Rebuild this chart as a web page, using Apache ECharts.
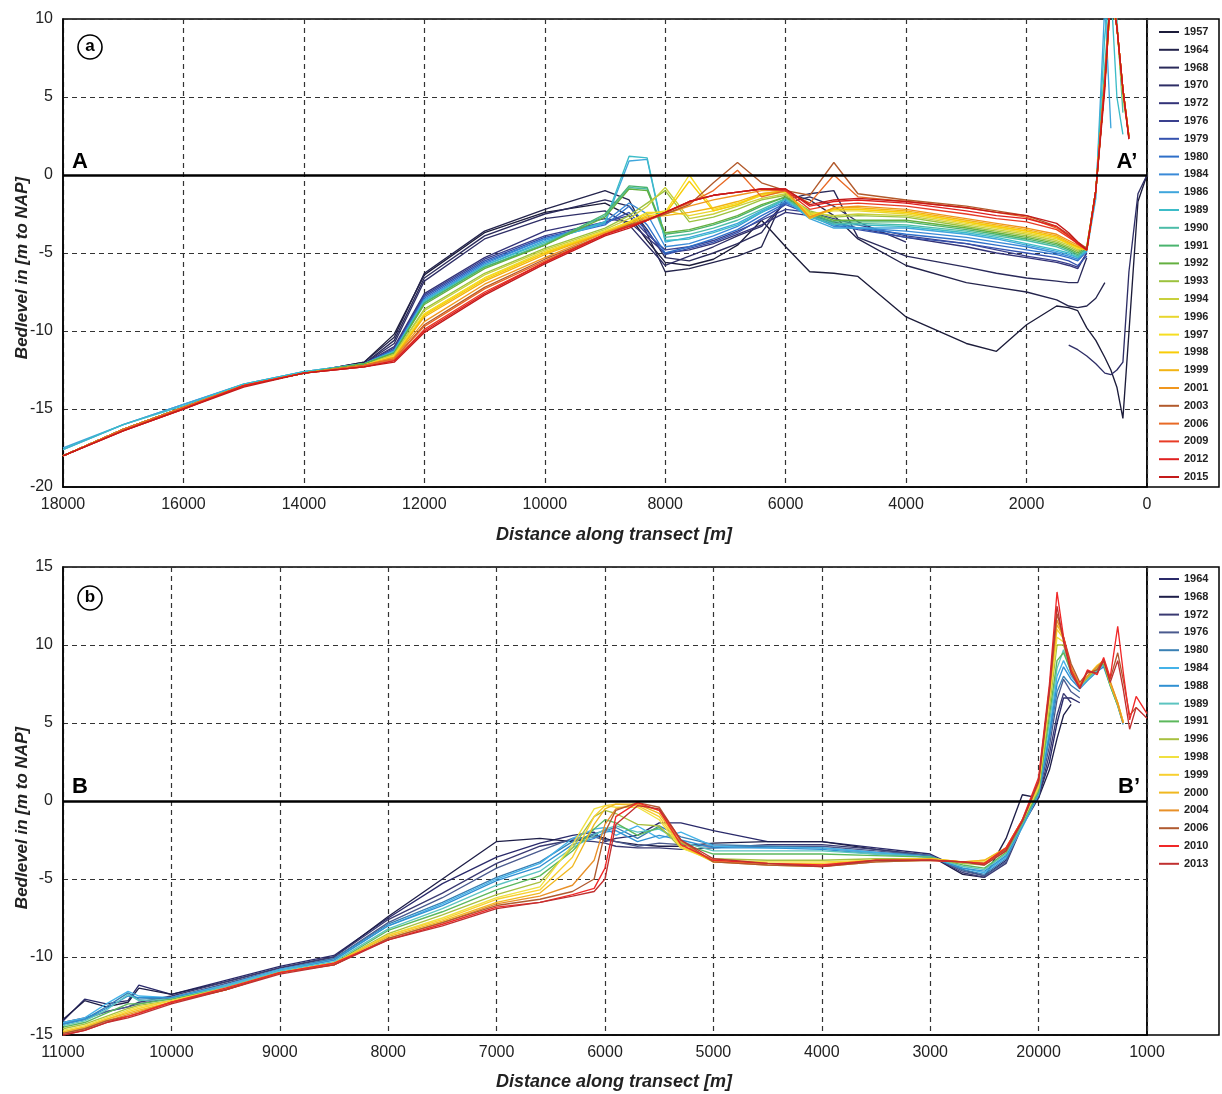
<!DOCTYPE html>
<html><head><meta charset="utf-8">
<script src="https://cdn.jsdelivr.net/npm/echarts@6.0.0/dist/echarts.min.js"></script>
<style>html,body{margin:0;padding:0;background:#fff}#c{width:1222px;height:1094px}</style>
</head><body><div id="c"></div>
<script>
// ---------- Panel a ----------
const XA = [18000,17000,16000,15000,14000,13000, 12500,12000,11000,10000, 9000,8600,8300,8000,7600,7200,6800,6400,6000, 5600,5200,4800,4000,3000,2500,2000, 1500,1300,1150,1000, 850,700,600,500,400,300,150,0];
const YEARS_A = ['1957','1964','1968','1970','1972','1976','1979','1980','1984','1986','1989','1990','1991','1992','1993','1994','1996','1997','1998','1999','2001','2003','2006','2009','2012','2015'];
const COLORS_A = ['#1c1c3a','#24244c','#2a2a5a','#2e2e66','#333378','#3a408e','#3552ae','#2f6fc8','#3a8ad8','#3fa6dc','#3cbcc8','#4cbca8','#4ab46e','#64b040','#9cc23e','#c8d03c','#e8d62e','#f6de22','#f8cc08','#f2b414','#f0961e','#b25a2c','#e86a26','#e83c26','#e02020','#c41a1a'];
const A1957 = [-18.0,-16.3,-14.9,-13.5,-12.7,-12.0, -10.2,-6.4,-3.7,-2.4, -1.8,-2.6,-4.2,-5.6,-5.8,-5.4,-4.5,-2.9,-4.6, -6.2,-6.3,-6.5,-9.1,-10.8,-11.3,-9.6, -8.4,-8.5,-8.7,-9.8, -10.6,-11.7,-12.5,-13.6,-15.6,-10.1,-1.7,0];
const A1964 = [-18.0,-16.3,-14.9,-13.5,-12.7,-12.0, -10.4,-6.3,-3.6,-2.2, -1.0,-1.6,-3.8,-6.2,-6.0,-5.6,-5.2,-4.6,-1.2, -1.6,-2.6,-4.1,-5.8,-6.9,-7.2,-7.5, -8.0,-8.4,-8.5,-8.4, -7.9,-6.9,null,null,null,null,null,null];
const A1968 = [-18.0,-16.3,-14.9,-13.5,-12.7,-12.1, -10.6,-6.6,-3.9,-2.5, -1.6,-2.0,-3.5,-5.3,-5.5,-5.0,-4.4,-3.7,-1.6, -1.2,-1.0,-4.0,-5.2,-5.9,-6.3,-6.6, -6.8,-6.9,-6.9,-5.3, null,null,null,null,null,null,null,null];
const A1970 = [-18.0,-16.3,-14.9,-13.5,-12.7,-12.1, -10.8,-6.8,-4.1,-2.8, -2.3,-3.2,-4.5,-5.8,-5.2,-4.6,-3.9,-3.3,-1.8, -1.4,-2.0,-3.0,-4.3,null,null,null, null,-10.9,-11.2,-11.6, -12.1,-12.7,-12.8,-12.5,-12.0,-6.2,-1.2,0];
const A1972 = [-18.0,-16.3,-14.9,-13.5,-12.7,-12.1, -11.0,-7.6,-5.3,-3.6, -2.8,-3.0,-4.0,-5.0,-4.8,-4.4,-3.8,-3.2,-2.4, -2.6,-3.0,-3.4,-4.0,-4.6,-5.0,-5.3, -5.6,-5.8,-6.0,-5.0, null,null,null,null,null,null,null,null];
const A1976 = [-18.0,-16.3,-14.9,-13.5,-12.7,-12.1, -11.1,-7.7,-5.4,-3.9, -3.0,-2.6,-3.8,-4.8,-4.6,-4.2,-3.6,-2.9,-2.2, -2.4,-2.8,-3.2,-3.9,-4.4,-4.8,-5.2, -5.5,-5.7,-5.9,-5.0, null,null,null,null,null,null,null,null];
const A1979 = [-18.0,-16.3,-14.9,-13.5,-12.7,-12.1, -11.2,-7.8,-5.5,-4.0, -3.1,-2.4,-3.6,-5.1,-4.7,-4.3,-3.7,-2.8,-1.9, -2.5,-3.2,-3.5,-4.0,-4.4,-4.7,-5.0, -5.3,-5.5,-5.8,-5.2, null,null,null,null,null,null,null,null];
const A1980 = [-18.0,-16.3,-14.9,-13.5,-12.7,-12.1, -11.2,-7.9,-5.6,-4.1, -3.2,-2.0,-3.2,-5.0,-4.6,-4.1,-3.5,-2.6,-1.8, -2.4,-3.1,-3.4,-3.8,-4.2,-4.5,-4.8, -5.1,-5.3,-5.5,-4.9, null,null,null,null,null,null,null,null];
const A1984 = [-17.6,-16.0,-14.7,-13.4,-12.6,-12.1, -11.3,-8.0,-5.7,-4.1, -3.0,-1.8,-2.5,-4.6,-4.4,-3.9,-3.3,-2.4,-1.7, -2.6,-3.3,-3.4,-3.6,-4.0,-4.3,-4.6, -5.0,-5.2,-5.4,-4.8, null,null,null,null,null,null,null,null];
const A1986 = [-17.5,-16.0,-14.7,-13.4,-12.6,-12.1, -11.3,-8.0,-5.8,-4.2, -3.1,0.9,1.0,-4.3,-4.0,-3.6,-3.1,-2.3,-1.6, -2.8,-3.4,-3.4,-3.4,-3.8,-4.1,-4.5, -4.9,-5.1,-5.3,-4.9, -1.5,11.0,3.0,null,null,null,null,null];
const A1989 = [-17.6,-16.0,-14.8,-13.4,-12.6,-12.1, -11.3,-8.1,-5.8,-4.3, -3.0,1.2,1.1,-4.2,-4.1,-3.7,-3.2,-2.4,-1.5, -2.7,-3.2,-3.2,-3.3,-3.7,-4.0,-4.4, -4.8,-5.0,-5.3,-4.8, -1.2,9.0,12.0,5.0,2.6,null,null,null];
const A1990 = [-18.0,-16.3,-14.9,-13.5,-12.7,-12.1, -11.4,-8.2,-5.9,-4.4, -2.6,-0.8,-0.9,-4.0,-3.8,-3.4,-2.9,-2.2,-1.5, -2.6,-3.1,-3.1,-3.2,-3.6,-3.9,-4.2, -4.6,-4.9,-5.2,-4.7, -1.0,7.0,12.0,10.0,4.0,null,null,null];
const A1991 = [-18.0,-16.3,-14.9,-13.5,-12.7,-12.1, -11.4,-8.2,-5.9,-4.5, -2.5,-0.7,-0.8,-3.8,-3.6,-3.2,-2.7,-2.0,-1.4, -2.5,-3.0,-3.0,-3.0,-3.5,-3.8,-4.1, -4.5,-4.8,-5.1,-4.7, -1.0,6.5,12.0,10.0,null,null,null,null];
const A1992 = [-18.0,-16.3,-14.9,-13.5,-12.7,-12.1, -11.4,-8.3,-6.0,-4.5, -2.7,-0.9,-1.0,-3.7,-3.5,-3.1,-2.6,-1.9,-1.4, -2.4,-2.9,-2.9,-2.9,-3.4,-3.7,-4.0, -4.4,-4.7,-5.0,-4.6, -1.0,6.0,11.5,9.5,5.0,null,null,null];
const A1993 = [-18.0,-16.3,-14.9,-13.5,-12.7,-12.2, -11.5,-8.6,-6.3,-4.7, -3.4,-2.6,-1.8,-1.0,-3.0,-2.7,-2.2,-1.6,-1.3, -2.3,-2.7,-2.6,-2.7,-3.3,-3.6,-3.9, -4.3,-4.6,-4.9,-4.6, -1.0,6.0,11.5,9.5,5.0,2.5,null,null];
const A1994 = [-18.0,-16.3,-14.9,-13.5,-12.7,-12.2, -11.5,-8.7,-6.4,-4.8, -3.5,-2.8,-2.0,-0.8,-2.8,-2.5,-2.0,-1.5,-1.2, -2.4,-2.6,-2.5,-2.6,-3.2,-3.5,-3.8, -4.2,-4.5,-4.8,-4.6, -1.0,6.0,11.5,9.5,5.0,2.5,null,null];
const A1996 = [-18.0,-16.3,-14.9,-13.5,-12.7,-12.2, -11.6,-8.9,-6.6,-4.9, -3.6,-3.0,-2.5,-2.3,-2.6,-2.3,-1.9,-1.3,-1.1, -2.5,-2.3,-2.3,-2.5,-3.1,-3.4,-3.7, -4.1,-4.4,-4.7,-4.7, -1.0,6.0,11.5,9.5,5.5,2.5,null,null];
const A1997 = [-18.0,-16.3,-14.9,-13.5,-12.7,-12.2, -11.6,-8.9,-6.6,-5.0, -3.6,-3.0,-2.4,-2.4,0.0,-2.2,-1.8,-1.3,-1.0, -2.6,-2.2,-2.2,-2.4,-3.0,-3.3,-3.6, -4.0,-4.4,-4.7,-4.8, -1.0,6.0,11.5,9.5,5.5,2.5,null,null];
const A1998 = [-18.0,-16.3,-14.9,-13.5,-12.7,-12.2, -11.7,-9.0,-6.7,-5.0, -3.7,-3.1,-2.6,-2.5,-0.4,-2.3,-1.9,-1.2,-1.0, -2.7,-2.2,-2.2,-2.4,-3.0,-3.3,-3.6, -4.0,-4.4,-4.6,-4.8, -1.0,6.0,11.5,9.5,5.5,2.5,null,null];
const A1999 = [-18.0,-16.3,-14.9,-13.5,-12.7,-12.2, -11.7,-9.1,-6.8,-5.1, -3.7,-3.1,-2.7,-2.6,-2.4,-2.1,-1.7,-1.2,-1.0, -2.8,-2.1,-2.1,-2.3,-2.9,-3.2,-3.5, -3.9,-4.3,-4.6,-4.8, -1.0,6.0,11.5,9.5,5.5,2.5,null,null];
const A2001 = [-18.0,-16.3,-14.9,-13.5,-12.7,-12.2, -11.7,-9.4,-7.0,-5.3, -3.7,-3.2,-2.8,-2.5,-2.0,-1.6,-1.3,-1.0,-1.0, -2.7,-2.1,-2.0,-2.2,-2.8,-3.1,-3.4, -3.8,-4.2,-4.5,-4.8, -1.0,6.0,12.0,9.5,5.5,2.5,null,null];
const A2003 = [-18.0,-16.3,-14.9,-13.5,-12.7,-12.2, -11.8,-9.6,-7.2,-5.4, -3.8,-3.2,-2.9,-2.5,-1.9,-0.5,0.8,-0.5,-1.0, -1.3,0.8,-1.2,-1.6,-2.0,-2.3,-2.6, -3.3,-3.8,-4.3,-4.7, -1.0,6.0,12.0,9.5,5.5,2.4,null,null];
const A2006 = [-18.0,-16.3,-14.9,-13.5,-12.7,-12.2, -11.8,-9.7,-7.3,-5.5, -3.8,-3.3,-2.9,-2.4,-1.8,-1.0,0.3,-1.4,-1.0, -1.8,0.0,-1.4,-1.7,-2.1,-2.4,-2.7, -3.4,-3.9,-4.4,-4.8, -1.0,6.0,12.0,9.5,5.5,2.4,null,null];
const A2009 = [-18.0,-16.4,-15.0,-13.5,-12.7,-12.3, -11.9,-9.9,-7.5,-5.6, -3.8,-3.3,-2.9,-2.4,-1.7,-1.3,-1.1,-0.9,-1.0, -2.2,-1.9,-1.8,-2.0,-2.5,-2.8,-3.0, -3.5,-4.0,-4.4,-4.8, -1.0,6.0,12.0,9.5,5.5,2.4,null,null];
const A2012 = [-18.0,-16.4,-15.0,-13.5,-12.7,-12.3, -11.9,-10.0,-7.6,-5.6, -3.8,-3.3,-2.9,-2.4,-1.7,-1.3,-1.1,-0.9,-0.9, -2.0,-1.7,-1.6,-1.8,-2.3,-2.6,-2.8, -3.3,-3.9,-4.4,-4.8, -1.0,5.8,12.0,9.5,5.5,2.3,null,null];
const A2015 = [-18.0,-16.4,-15.0,-13.6,-12.7,-12.3, -12.0,-10.1,-7.7,-5.7, -3.9,-3.4,-2.9,-2.4,-1.7,-1.3,-1.1,-0.9,-0.9, -1.9,-1.6,-1.5,-1.7,-2.1,-2.4,-2.6, -3.1,-3.7,-4.3,-4.8, -1.0,5.5,12.0,9.5,5.5,2.3,null,null];
const SERIES_A = [A1957,A1964,A1968,A1970,A1972,A1976,A1979,A1980,A1984,A1986,A1989,A1990,A1991,A1992,A1993,A1994,A1996,A1997,A1998,A1999,A2001,A2003,A2006,A2009,A2012,A2015];

// ---------- Panel b ----------
const XB = [11000,10800,10600,10400,10300, 10000,9500,9000,8500,8000,7500, 7000,6600,6300,6100,6000,5900,5700,5500,5300, 5000,4500,4000,3500,3000,2700,2500,2300,2150, 2000,1900,1830,1770,1700,1620,1550,1460, 1400,1340,1270,1220,1160,1100,1000];
const XB_TICK_LABELS = ['11000','10000','9000','8000','7000','6000','5000','4000','3000','20000','1000'];
const YEARS_B = ['1964','1968','1972','1976','1980','1984','1988','1989','1991','1996','1998','1999','2000','2004','2006','2010','2013'];
const COLORS_B = ['#2a2a6a','#1e1e48','#3a3a72','#4a5a8e','#3a80b4','#44b2e8','#3090d2','#5cc4c0','#5cb85c','#a8c040','#f0e040','#f8d030','#f0b820','#e89028','#b05a30','#f02828','#c03030'];
const B1964 = [-14.1,-12.7,-13.0,-12.8,-11.8, -12.4,-11.5,-10.6,-9.9,-7.5,-5.3, -3.6,-2.7,-2.2,-2.0,-2.6,-2.4,-2.2,-1.4,-1.4, -1.9,-2.6,-2.6,-3.0,-3.4,-4.4,-4.8,-3.8,-1.2, 0.3,2.5,5.0,6.6,6.6,6.3,null,null, null,null,null,null,null,null,null];
const B1968 = [-14.0,-12.8,-13.2,-12.9,-12.0, -12.4,-11.6,-10.7,-10.0,-7.4,-5.0, -2.6,-2.4,-2.6,-2.2,-2.4,-2.6,-2.8,-2.9,-2.9, -2.7,-2.6,-2.6,-3.1,-3.5,-4.7,-4.9,-2.4,0.4, 0.2,2.0,4.0,5.5,6.2,null,null,null, null,null,null,null,null,null,null];
const B1972 = [-14.2,-13.9,-13.5,-13.2,-12.9, -12.5,-11.6,-10.7,-10.0,-7.6,-5.9, -4.0,-2.9,-2.5,-2.6,-2.7,-2.9,-3.0,-3.0,-3.1, -3.0,-2.8,-2.8,-3.1,-3.5,-4.6,-4.9,-4.0,-1.6, 0.2,3.0,5.5,6.9,6.3,null,null,null, null,null,null,null,null,null,null];
const B1976 = [-14.3,-14.0,-13.5,-13.2,-13.0, -12.6,-11.7,-10.8,-10.1,-7.8,-6.2, -4.3,-3.2,-2.4,-2.3,-2.5,-2.6,-2.9,-2.7,-2.8, -2.9,-2.9,-2.9,-3.2,-3.5,-4.5,-4.8,-3.9,-1.5, 0.4,3.5,6.5,7.8,7.0,6.6,null,null, null,null,null,null,null,null,null];
const B1980 = [-14.3,-14.0,-13.2,-12.3,-12.7, -12.6,-11.8,-10.8,-10.1,-7.9,-6.5, -4.9,-3.9,-2.6,-2.1,-1.9,-1.7,-2.4,-1.6,-2.3, -2.8,-2.9,-3.0,-3.3,-3.5,-4.4,-4.7,-3.7,-1.6, 0.5,4.0,7.0,8.0,7.4,7.0,null,null, null,null,null,null,null,null,null];
const B1984 = [-14.2,-13.9,-13.0,-12.2,-12.5, -12.6,-11.8,-10.8,-10.2,-8.0,-6.6, -5.0,-4.0,-2.4,-1.8,-1.7,-2.2,-1.6,-2.4,-2.0, -2.9,-3.0,-3.0,-3.3,-3.6,-4.3,-4.6,-3.6,-1.7, 0.4,4.5,8.0,9.0,8.0,7.3,7.8,8.4, 8.7,7.5,6.2,5.0,null,null,null];
const B1988 = [-14.3,-14.0,-13.3,-12.5,-12.6, -12.6,-11.9,-10.9,-10.2,-8.0,-6.7, -5.1,-4.2,-2.8,-2.4,-2.0,-1.9,-2.6,-2.2,-2.5, -3.0,-3.0,-3.1,-3.4,-3.6,-4.3,-4.5,-3.5,-1.6, 0.5,4.2,7.5,8.6,7.8,7.2,7.7,8.3, 8.6,7.4,6.1,4.9,null,null,null];
const B1989 = [-14.4,-14.1,-13.4,-12.4,-12.8, -12.7,-11.9,-10.9,-10.3,-8.2,-6.9, -5.4,-4.5,-3.0,-2.2,-1.8,-1.6,-2.0,-1.8,-2.6, -3.2,-3.2,-3.2,-3.4,-3.6,-4.2,-4.4,-3.4,-1.5, 0.6,5.0,8.5,9.7,8.2,7.3,7.8,8.4, 8.8,7.5,6.2,5.0,null,null,null];
const B1991 = [-14.5,-14.2,-13.6,-13.0,-13.0, -12.7,-12.0,-11.0,-10.4,-8.3,-7.1, -5.7,-4.8,-3.2,-1.8,-1.2,-1.4,-2.2,-1.7,-2.7, -3.4,-3.4,-3.4,-3.5,-3.6,-4.1,-4.3,-3.3,-1.4, 0.6,5.5,9.0,9.5,8.3,7.4,7.9,8.5, 8.8,7.4,6.1,5.0,null,null,null];
const B1996 = [-14.6,-14.3,-13.8,-13.3,-13.1, -12.8,-12.0,-11.0,-10.4,-8.5,-7.3, -6.0,-5.2,-3.0,-1.0,-0.6,-0.8,-1.5,-1.6,-3.0, -3.7,-3.8,-3.8,-3.7,-3.7,-4.0,-4.1,-3.2,-1.3, 0.8,6.0,10.0,10.0,8.4,7.4,7.9,8.6, 8.9,7.5,6.2,5.1,null,null,null];
const B1998 = [-14.7,-14.4,-13.9,-13.4,-13.2, -12.8,-12.0,-11.0,-10.4,-8.6,-7.5, -6.2,-5.5,-2.8,-0.5,-0.3,-0.4,-0.4,-1.2,-3.0, -3.8,-3.9,-3.9,-3.8,-3.7,-3.9,-3.9,-3.1,-1.3, 0.9,6.5,10.5,10.2,8.5,7.5,8.0,8.6, 9.0,7.6,6.3,5.1,null,null,null];
const B1999 = [-14.8,-14.5,-14.0,-13.5,-13.3, -12.8,-12.1,-11.0,-10.4,-8.6,-7.6, -6.3,-5.7,-3.6,-1.0,-0.3,-0.2,-0.3,-1.0,-2.9, -3.9,-4.0,-4.0,-3.8,-3.7,-3.9,-3.8,-3.0,-1.2, 1.0,6.8,11.0,10.4,8.5,7.5,8.0,8.7, 9.0,7.6,6.3,5.1,null,null,null];
const B2000 = [-14.8,-14.5,-14.0,-13.6,-13.4, -12.9,-12.1,-11.0,-10.4,-8.7,-7.7, -6.5,-5.9,-4.2,-1.5,-0.5,-0.2,-0.2,-0.8,-2.8, -3.9,-4.0,-4.1,-3.8,-3.7,-3.9,-3.8,-3.0,-1.2, 1.1,7.0,11.3,10.5,8.5,7.4,8.0,8.6, 9.0,7.6,6.2,5.0,null,null,null];
const B2004 = [-14.9,-14.6,-14.1,-13.7,-13.5, -12.9,-12.1,-11.0,-10.5,-8.8,-7.8, -6.6,-6.1,-5.4,-3.8,-1.5,-0.5,-0.2,-0.6,-2.6, -3.9,-4.1,-4.2,-3.9,-3.8,-3.9,-4.0,-3.0,-1.2, 1.3,7.2,11.6,10.5,8.6,7.4,8.0,8.6, 9.0,7.7,6.3,5.0,null,null,null];
const B2006 = [-14.9,-14.6,-14.1,-13.8,-13.6, -12.9,-12.1,-11.0,-10.5,-8.8,-7.8, -6.7,-6.3,-5.8,-5.0,-2.0,-0.6,-0.1,-0.4,-2.5, -3.9,-4.1,-4.2,-3.9,-3.8,-3.9,-4.0,-3.1,-1.3, 1.2,7.0,12.0,10.5,8.8,7.6,8.2,8.4, 9.1,7.8,9.5,7.8,5.5,6.0,null];
const B2010 = [-15.0,-14.7,-14.2,-13.8,-13.6, -12.9,-12.0,-11.0,-10.4,-8.9,-7.9, -6.8,-6.5,-6.0,-5.6,-4.3,-1.0,-0.1,-0.6,-2.8, -3.8,-4.0,-4.1,-3.8,-3.8,-3.9,-4.0,-3.0,-1.2, 1.5,7.5,13.4,10.5,8.4,7.3,8.4,8.1, 9.2,7.9,11.2,8.3,5.2,6.7,5.6];
const B2013 = [-15.0,-14.7,-14.2,-13.9,-13.7, -13.0,-12.1,-11.1,-10.5,-8.9,-8.0, -6.9,-6.5,-6.1,-5.8,-5.0,-1.5,-0.3,-0.5,-2.5, -3.7,-4.0,-4.2,-3.8,-3.8,-3.9,-4.1,-3.2,-1.3, 1.3,7.2,12.5,10.2,8.2,7.2,8.3,8.2, 9.0,7.6,9.0,7.2,4.6,6.0,5.3];
const SERIES_B = [B1964,B1968,B1972,B1976,B1980,B1984,B1988,B1989,B1991,B1996,B1998,B1999,B2000,B2004,B2006,B2010,B2013];

const FONT = 'Liberation Sans, Arial, sans-serif';
const chart = echarts.init(document.getElementById('c'), null, {renderer:'canvas'});

function mkSeries(name, color, xs, ys, idx, isFirst) {
  const s = {
    name, type:'line', xAxisIndex:idx, yAxisIndex:idx,
    data: xs.map((x,i)=>[x, ys[i]==null ? '-' : ys[i]]),
    symbol:'none', showSymbol:false, clip:true, connectNulls:false,
    lineStyle:{width:1.35, color}, itemStyle:{color},
    emphasis:{disabled:true}, silent:true, animation:false, z:2
  };
  if (isFirst) {
    s.markLine = {silent:true, symbol:'none', label:{show:false}, animation:false,
      lineStyle:{color:'#000', width:2.5, type:'solid'}, data:[{yAxis:0}]};
  }
  return s;
}
const series = [];
SERIES_A.forEach((ys,i)=>series.push(mkSeries(YEARS_A[i], COLORS_A[i], XA, ys, 0, i===0)));
SERIES_B.forEach((ys,i)=>series.push(mkSeries('b'+YEARS_B[i], COLORS_B[i], XB, ys, 1, i===0)));

const axisLabelStyle = {fontSize:16, color:'#222', fontFamily:FONT};
const splitStyle = {show:true, lineStyle:{color:'#333', width:1.2, type:[5,4]}};
const axisLineStyle = {show:true, onZero:false, lineStyle:{color:'#000', width:1.5}};

function legendCfg(names, top) {
  return {
    data: names, orient:'vertical', left:1159, top, padding:0,
    itemWidth:20, itemHeight:2, itemGap:5.8, icon:'rect', selectedMode:false,
    formatter: n => n.replace(/^b/, ''),
    textStyle:{fontSize:11, fontWeight:'bold', color:'#222', fontFamily:FONT, lineHeight:12}
  };
}

const titleFont = 'italic bold 17px ' + FONT;
chart.setOption({
  animation:false,
  backgroundColor:'#fff',
  grid:[
    {left:63, top:19, width:1084, height:468, show:true, borderColor:'#000', borderWidth:1.5, backgroundColor:'transparent'},
    {left:63, top:567, width:1084, height:468, show:true, borderColor:'#000', borderWidth:1.5, backgroundColor:'transparent'}
  ],
  xAxis:[
    {type:'value', gridIndex:0, inverse:true, min:0, max:18000, interval:2000,
     axisLine:axisLineStyle, axisTick:{show:false}, splitLine:splitStyle,
     axisLabel:Object.assign({margin:10, showMinLabel:true, showMaxLabel:true, hideOverlap:false,
       formatter: v => String(v)}, axisLabelStyle)},
    {type:'value', gridIndex:1, inverse:true, min:1000, max:11000, interval:1000,
     axisLine:axisLineStyle, axisTick:{show:false}, splitLine:splitStyle,
     axisLabel:Object.assign({margin:10, showMinLabel:true, showMaxLabel:true, hideOverlap:false,
       formatter: v => XB_TICK_LABELS[Math.round((11000 - v)/1000)]}, axisLabelStyle)}
  ],
  yAxis:[
    {type:'value', gridIndex:0, min:-20, max:10, interval:5,
     axisLine:axisLineStyle, axisTick:{show:false}, splitLine:splitStyle,
     axisLabel:Object.assign({margin:10, formatter: v => String(v)}, axisLabelStyle)},
    {type:'value', gridIndex:1, min:-15, max:15, interval:5,
     axisLine:axisLineStyle, axisTick:{show:false}, splitLine:splitStyle,
     axisLabel:Object.assign({margin:10, formatter: v => String(v)}, axisLabelStyle)}
  ],
  legend:[legendCfg(YEARS_A, 26), legendCfg(YEARS_B.map(y=>'b'+y), 573)],
  graphic:[
    {type:'rect', shape:{x:1147, y:19, width:72, height:468}, style:{fill:'none', stroke:'#000', lineWidth:1.5}, silent:true},
    {type:'rect', shape:{x:1147, y:567, width:72, height:468}, style:{fill:'none', stroke:'#000', lineWidth:1.5}, silent:true},
    {type:'circle', shape:{cx:90, cy:47, r:12}, style:{fill:'#fff', stroke:'#000', lineWidth:1.6}, z:10},
    {type:'text', x:90, y:46, z:11, style:{text:'a', font:'bold 17px '+FONT, fill:'#000', align:'center', verticalAlign:'middle'}},
    {type:'circle', shape:{cx:90, cy:598, r:12}, style:{fill:'#fff', stroke:'#000', lineWidth:1.6}, z:10},
    {type:'text', x:90, y:597, z:11, style:{text:'b', font:'bold 17px '+FONT, fill:'#000', align:'center', verticalAlign:'middle'}},
    {type:'text', x:80, y:162, z:11, style:{text:'A', font:'bold 22px '+FONT, fill:'#000', align:'center', verticalAlign:'middle'}},
    {type:'text', x:1127, y:162, z:11, style:{text:'A’', font:'bold 22px '+FONT, fill:'#000', align:'center', verticalAlign:'middle'}},
    {type:'text', x:80, y:787, z:11, style:{text:'B', font:'bold 22px '+FONT, fill:'#000', align:'center', verticalAlign:'middle'}},
    {type:'text', x:1129, y:787, z:11, style:{text:'B’', font:'bold 22px '+FONT, fill:'#000', align:'center', verticalAlign:'middle'}},
    {type:'text', x:22, y:268, rotation:Math.PI/2, style:{text:'Bedlevel in [m to NAP]', font:titleFont, fill:'#222', align:'center', verticalAlign:'middle'}},
    {type:'text', x:22, y:818, rotation:Math.PI/2, style:{text:'Bedlevel in [m to NAP]', font:titleFont, fill:'#222', align:'center', verticalAlign:'middle'}},
    {type:'text', x:614, y:535, style:{text:'Distance along transect [m]', font:'italic bold 18px '+FONT, fill:'#222', align:'center', verticalAlign:'middle'}},
    {type:'text', x:614, y:1082, style:{text:'Distance along transect [m]', font:'italic bold 18px '+FONT, fill:'#222', align:'center', verticalAlign:'middle'}}
  ],
  series
});
</script></body></html>
